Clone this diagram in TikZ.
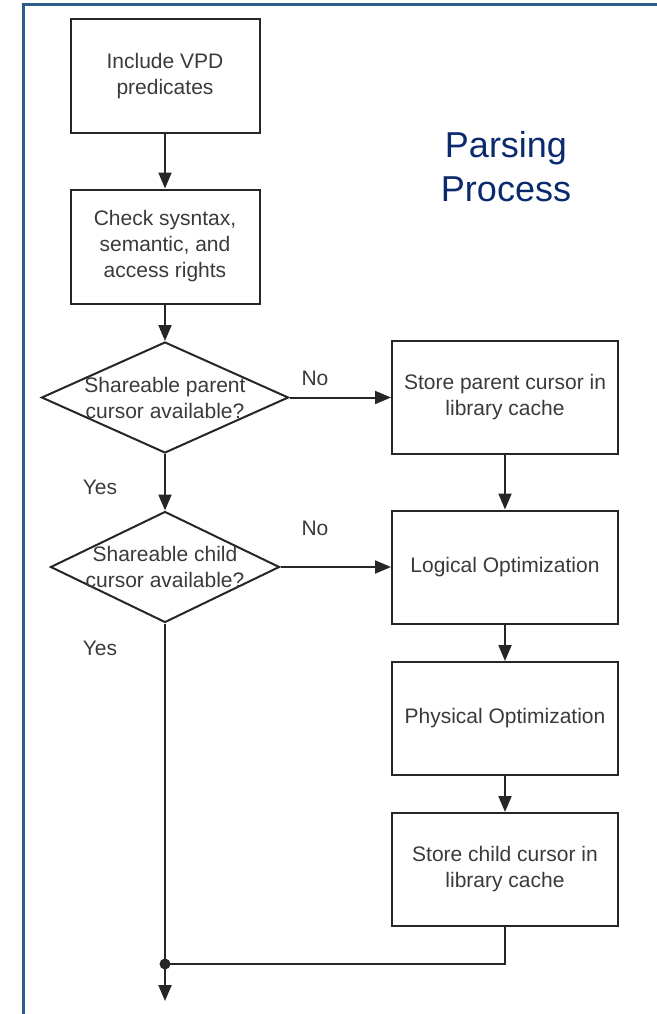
\documentclass[tikz,border=0pt]{standalone}
\usepackage{fontspec}
\setmainfont{Liberation Sans}
\usetikzlibrary{arrows.meta,shapes.geometric}
\definecolor{framecol}{HTML}{2B5C8A}
\definecolor{titlecol}{HTML}{0B2A6E}
\definecolor{inkcol}{HTML}{3A3A3A}
\definecolor{linecol}{HTML}{262626}

\begin{document}
\begin{tikzpicture}[x=1pt,y=-1pt,
  every node/.style={font=\fontsize{21}{26}\selectfont,text=inkcol},
  leftbox/.style={draw=linecol,line width=2pt,minimum width=189pt,minimum height=114pt,align=center},
  rightbox/.style={draw=linecol,line width=2pt,minimum width=226pt,minimum height=113pt,align=center},
  decision/.style={draw=linecol,line width=2pt,shape=diamond,inner sep=0pt,minimum height=111pt},
  flow/.style={draw=linecol,line width=2pt,-{Triangle[length=16pt,width=13pt]}},
  plain/.style={draw=linecol,line width=2pt}]
\useasboundingbox (0,0) rectangle (656,1014);
\draw [framecol,line width=3pt](23,1016)--(23,5)--(658,5);

\node (title) at (506,167) [font=\fontsize{36}{44}\selectfont,text=titlecol,align=center] {Parsing\\Process};

\node (vpd) at (165,76) [leftbox] {Include VPD\\predicates};
\node (check) at (165,246.5) [leftbox] {Check sysntax,\\semantic, and\\access rights};
\node (parent) at (165,397.5) [decision,minimum width=247pt,
  label={[align=center]center:Shareable parent\\cursor available?}] {};
\node (child) at (165,567) [decision,minimum width=229pt,
  label={[align=center]center:Shareable child\\cursor available?}] {};

\node (storep) at (505,397.5) [rightbox] {Store parent cursor in\\library cache};
\node (logical) at (505,567) [rightbox] {Logical Optimization};
\node (physical) at (505,718.5) [rightbox] {Physical Optimization};
\node (storec) at (505,869.5) [rightbox] {Store child cursor in\\library cache};

\node (no1) at (315,378) {No};
\node (no2) at (315,528) {No};
\node (yes1) at (100,487) {Yes};
\node (yes2) at (100,648) {Yes};

\coordinate (join) at (165,964);
\coordinate (out) at (165,1001);

\draw [flow](vpd)--(check);
\draw [flow](check)--(parent);
\draw [flow](parent.east)--(storep.west);
\draw [flow](parent.south)--(child.north);
\draw [flow](child.east)--(logical.west);
\draw [flow](storep)--(logical);
\draw [flow](logical)--(physical);
\draw [flow](physical)--(storec);
\draw [plain](child.south)--(join);
\draw [plain](storec.south)|-(join);
\fill [linecol](join) circle (5.5pt);
\draw [flow](join)--(out);

\end{tikzpicture}
\end{document}
